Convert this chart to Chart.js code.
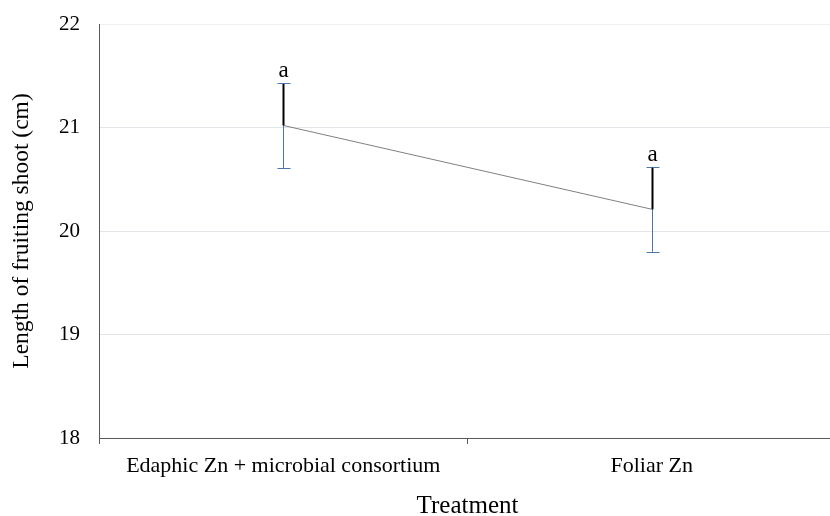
<!DOCTYPE html>
<html><head><meta charset="utf-8">
<script src="https://cdn.jsdelivr.net/npm/chart.js@4"></script>
<style>html,body{margin:0;padding:0;overflow:hidden;background:#fff;width:830px;height:516px}#wrap{width:836px;height:516px}</style>
</head><body><div id="wrap"><canvas id="c" width="836" height="516"></canvas></div>
<script>
const categories = ["Edaphic Zn + microbial consortium", "Foliar Zn"];
const means = [21.02, 20.21];
const errors = [0.41, 0.41];
const letters = ["a", "a"];
const yTicks = [18, 19, 20, 21, 22];

const serif = "'Liberation Serif','DejaVu Serif',serif";

const errPlugin = {
  id: 'errbars',
  afterDatasetsDraw(chart) {
    const ctx = chart.ctx, xs = chart.scales.x, ys = chart.scales.y;
    ctx.save();
    means.forEach((m, i) => {
      const x = Math.round(xs.getPixelForValue(i)) + 0.5;
      const yt = ys.getPixelForValue(m + errors[i]);
      const yb = ys.getPixelForValue(m - errors[i]);
      const ym = ys.getPixelForValue(m);
      ctx.strokeStyle = '#4a76a8';
      ctx.lineWidth = 1;
      ctx.beginPath();
      ctx.moveTo(x, yt); ctx.lineTo(x, yb);
      ctx.moveTo(x - 6, Math.round(yt) + 0.5); ctx.lineTo(x + 7, Math.round(yt) + 0.5);
      ctx.moveTo(x - 6, Math.round(yb) + 0.5); ctx.lineTo(x + 7, Math.round(yb) + 0.5);
      ctx.stroke();
      ctx.strokeStyle = '#000';
      ctx.lineWidth = 2;
      ctx.beginPath();
      ctx.moveTo(x, yt + 1); ctx.lineTo(x, ym);
      ctx.stroke();
      ctx.fillStyle = '#000';
      ctx.font = "23px " + serif;
      ctx.textAlign = 'center';
      ctx.textBaseline = 'alphabetic';
      ctx.fillText(letters[i], x, yt - 6);
    });
    ctx.restore();
  }
};

new Chart(document.getElementById('c'), {
  type: 'line',
  data: {
    labels: categories,
    datasets: [{
      data: means,
      borderColor: '#808080',
      borderWidth: 1,
      pointRadius: 0,
      tension: 0,
      fill: false
    }]
  },
  options: {
    responsive: false,
    animation: false,
    layout: { padding: { top: 24, left: 0, right: 0, bottom: 0 } },
    plugins: { legend: { display: false }, tooltip: { enabled: false } },
    scales: {
      x: {
        type: 'category',
        offset: true,
        grid: { offset: true, drawOnChartArea: false, drawTicks: true, tickLength: 6, color: '#595959' },
        border: { color: '#595959', width: 1 },
        ticks: { color: '#000', font: { family: serif, size: 22 }, padding: 9, maxRotation: 0 },
        title: { display: true, text: 'Treatment', color: '#000', font: { family: serif, size: 25, lineHeight: 0.8 }, padding: { top: 0, bottom: 0 } },
        afterFit(s) { s.height = 78; s.paddingLeft = 0; s.paddingRight = 0; }
      },
      y: {
        min: 18, max: 22,
        afterBuildTicks(s) { s.ticks = yTicks.map(v => ({ value: v })); },
        grid: { drawTicks: false, color: (c) => c.tick && c.tick.value === 22 ? '#eef0f3' : '#e2e5ea' },
        border: { color: '#595959', width: 1 },
        ticks: { color: '#000', font: { family: serif, size: 21 }, padding: 19 },
        title: { display: true, text: 'Length of fruiting shoot (cm)', color: '#000', font: { family: serif, size: 23.5 }, padding: { top: 8, bottom: 0 } },
        afterFit(s) { s.width = 99; s.paddingTop = 0; s.paddingBottom = 0; }
      }
    }
  },
  plugins: [errPlugin]
});
</script>
</body></html>
